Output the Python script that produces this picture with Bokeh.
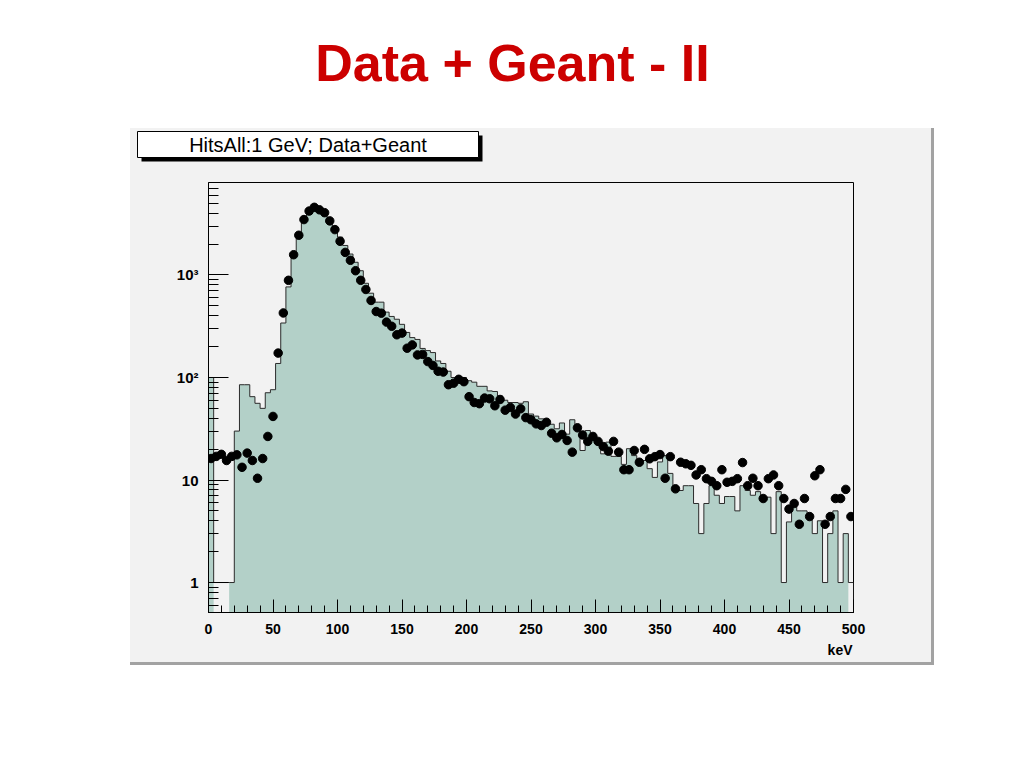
import numpy as np
from bokeh.plotting import figure
from bokeh.models import Range1d, FixedTicker, SingleIntervalTicker, Spacer
from bokeh.layouts import column, row
from bokeh.core.properties import value
from bokeh.embed import file_html
from bokeh.resources import INLINE

# ---------------- data ----------------
BIN_WIDTH = 4  # keV
# Geant simulation histogram (125 bins of 4 keV, 0..500 keV)
geant = [100, 0, 0, 0, 1, 30, 85, 85, 65, 56,
         50, 71, 76, 137, 340, 765, 1550, 2400, 3300, 3900,
         4200, 4050, 3800, 3300, 2840, 2340, 1940, 1600, 1330, 1100,
         830, 664, 543, 543, 434, 394, 370, 330, 275, 245,
         235, 192, 183, 175, 145, 137, 115, 100, 100, 100,
         93, 90, 82, 82, 74, 73, 66, 60, 57, 57,
         56, 58, 44, 42, 39.5, 38, 35, 31.6, 36, 28,
         38.7, 31.6, 19.4, 30.4, 28.6, 25.2, 18, 23.4, 17, 17,
         14.2, 20.2, 17.3, 15.5, 15.5, 12.9, 10.6, 15, 17.3, 11.6,
         7.9, 7.9, 8.8, 8.8, 5.9, 3, 5.9, 8.8, 7.1, 5.9,
         6.9, 6.9, 5.0, 8.8, 7.9, 7.1, 7.7, 6.8, 6.8, 3,
         7.7, 1, 3.9, 6.0, 5.0, 5.0, 4.5, 3, 4, 1,
         3, 5, 1, 3, 0]

# measured data (points, one per bin)
data = [16.2, 17, 17.8, 15.5, 17, 17.6, 13.3, 18.3, 15.5, 10.4,
        16.2, 26.6, 41.7, 173, 426, 887, 1575, 2440, 3470, 4200,
        4570, 4320, 4050, 3370, 2770, 2130, 1660, 1390, 1100, 887,
        722, 564, 440, 424, 347, 316, 261, 271, 193, 208,
        166, 168, 143, 131, 115, 113, 85, 88, 96, 91,
        65, 57, 55.5, 63, 62, 53, 61, 48, 51, 44,
        49.5, 40.6, 38.7, 35.3, 34, 36.6, 28.6, 25.8, 27.8, 24.3,
        18.7, 32.3, 27.5, 23.8, 26.6, 23.8, 21.2, 19.1, 23.8, 18.7,
        12.6, 12.6, 19.4, 14.9, 19.9, 16.1, 16.9, 17.7, 10.4, 16.9,
        8.2, 14.9, 14.4, 13.9, 11.2, 12.6, 10.3, 9.7, 8.8, 12.6,
        9.5, 9.7, 10.3, 14.8, 8.8, 10.4, 8.8, 6.6, 10.3, 11.2,
        8.8, 6.6, 5.2, 5.9, 3.7, 6.6, 4.4, 11.0, 12.6, 3.7,
        4.4, 6.6, 6.6, 8.1, 4.4]

y_major = [1, 10, 100, 1000]
y_labels = {1: "1", 10: "10", 100: "10²", 1000: "10³"}
y_minor = [0.6, 0.7, 0.8, 0.9] + [m * 10 ** d for d in range(0, 4) for m in range(2, 10)]

PAGE_TITLE = "Data + Geant - II"
HIST_TITLE = "HitsAll:1 GeV; Data+Geant"
X_LABEL = "keV"

PANEL = "#f2f2f2"
FILL = "#b3d0c8"
SHADOW = "#a2a2a2"

# ---------------- derived ----------------
n = len(geant)
edges = np.arange(n + 1) * BIN_WIDTH
centers = edges[:-1] + BIN_WIDTH / 2.0
g = np.array(geant, dtype=float)
floor_low = 0.3

# filled areas: one polygon per run of non-empty bins
poly_x, poly_y = [], []
i = 0
while i < n:
    if g[i] > 0:
        j = i
        while j < n and g[j] > 0:
            j += 1
        px, py = [edges[i]], [floor_low]
        for k in range(i, j):
            px += [edges[k], edges[k + 1]]
            py += [g[k], g[k]]
        px.append(edges[j])
        py.append(floor_low)
        poly_x.append(px)
        poly_y.append(py)
        i = j
    else:
        i += 1

# outline polyline (empty bins drawn at level 1)
gl = np.maximum(g, 1.0)
xs, ys = [edges[0]], [floor_low]
for k in range(n):
    xs += [edges[k], edges[k + 1]]
    ys += [gl[k], gl[k]]
xs.append(edges[-1])
ys.append(floor_low)


def blank(w, hgt, bg):
    f = figure(width=w, height=hgt, x_range=Range1d(0, w), y_range=Range1d(hgt, 0),
               output_backend="svg", toolbar_location=None, min_border=0,
               x_axis_location=None, y_axis_location=None,
               background_fill_color=bg, border_fill_color=bg)
    f.outline_line_color = None
    f.grid.visible = False
    return f


# ---------------- page title ----------------
t = blank(1016, 128, "white")
t.text(x=[512], y=[62], text=[PAGE_TITLE], text_font=value("Liberation Sans"),
       text_font_style="bold", text_font_size="52px", text_color="#cc0000",
       text_align="center", text_baseline="middle")

# ---------------- header with histogram title box ----------------
h = blank(801, 50, PANEL)
h.quad(left=[11], right=[352], top=[7], bottom=[33], fill_color="black", line_color=None)
h.quad(left=[7], right=[348], top=[3], bottom=[29], fill_color="white", line_color="black", line_width=1)
h.text(x=[177.5], y=[16.5], text=[HIST_TITLE], text_font=value("Liberation Sans"),
       text_font_size="20px", text_color="black", text_align="center", text_baseline="middle")

# ---------------- histogram ----------------
p = figure(width=801, height=464, x_range=Range1d(0, 500), y_range=Range1d(0.51, 7980),
           y_axis_type="log", output_backend="svg", toolbar_location=None,
           min_border_left=78, min_border_right=78, min_border_top=4, min_border_bottom=30,
           background_fill_color=PANEL, border_fill_color=PANEL)
p.grid.visible = False
p.outline_line_color = "black"
p.outline_line_width = 1

p.patches(poly_x, poly_y, fill_color=FILL, line_color=None)
p.line(xs, ys, line_color="#2b2b2b", line_width=1)
p.scatter(centers, data, size=8.5, marker="circle", fill_color="black", line_color="black")

xa = p.xaxis[0]
xa.ticker = SingleIntervalTicker(interval=50, num_minor_ticks=5)
xa.major_tick_in = 13
xa.major_tick_out = 0
xa.minor_tick_in = 7
xa.minor_tick_out = 0
xa.axis_line_color = "black"
xa.major_tick_line_color = "black"
xa.minor_tick_line_color = "black"
xa.major_label_standoff = 11
xa.major_label_text_font = "Liberation Sans"
xa.major_label_text_font_style = "bold"
xa.major_label_text_font_size = "14px"
xa.major_label_text_color = "black"

ya = p.yaxis[0]
ya.ticker = FixedTicker(ticks=y_major, minor_ticks=y_minor)
ya.major_label_overrides = y_labels
ya.major_tick_in = 20
ya.major_tick_out = 0
ya.minor_tick_in = 10
ya.minor_tick_out = 0
ya.axis_line_color = "black"
ya.major_tick_line_color = "black"
ya.minor_tick_line_color = "black"
ya.major_label_standoff = 10
ya.major_label_text_font = "Liberation Sans"
ya.major_label_text_font_style = "bold"
ya.major_label_text_font_size = "15px"
ya.major_label_text_color = "black"

# ---------------- strip with the x-axis unit ----------------
s = blank(801, 20, PANEL)
s.text(x=[722], y=[7], text=[X_LABEL], text_font=value("Liberation Sans"),
       text_font_style="bold", text_font_size="14px", text_color="black",
       text_align="right", text_baseline="middle")

# ---------------- layout ----------------
bg = {"background-color": PANEL}
shadow = {"background-color": SHADOW}
inner = column(row(h), row(p), row(s), Spacer(width=801, height=3, styles=shadow), styles=bg)
layout = column(
    t,
    row(Spacer(width=130, height=537), inner, Spacer(width=3, height=537, styles=shadow)),
)

open("out.html", "w").write(file_html(layout, INLINE))
